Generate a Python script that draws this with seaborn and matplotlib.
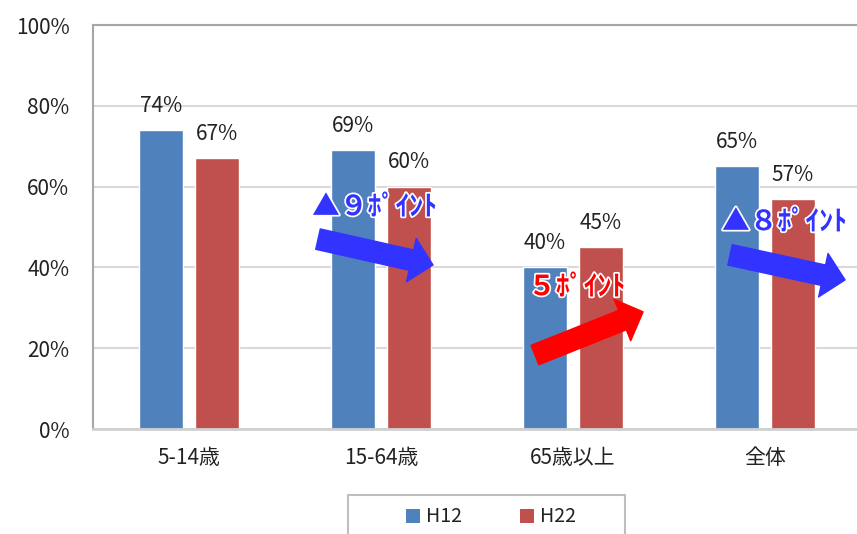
import matplotlib
matplotlib.use("Agg")
import matplotlib.pyplot as plt
import matplotlib.patheffects as pe
from matplotlib.patches import FancyArrowPatch, Rectangle, Patch
from matplotlib.patches import ArrowStyle
import seaborn as sns
import pandas as pd

# ---- data ----
categories = ["5-14歳", "15-64歳", "65歳以上", "全体"]
series_names = ["H12", "H22"]
h12_values = [74, 69, 40, 65]
h22_values = [67, 60, 45, 57]
y_ticks = [0, 20, 40, 60, 80, 100]
y_tick_labels = ["0%", "20%", "40%", "60%", "80%", "100%"]
annot_texts = ["▲９ﾎﾟｲﾝﾄ", "５ﾎﾟｲﾝﾄ", "▲８ﾎﾟｲﾝﾄ"]
# arrow (tail, head) in (category index, percent)
arrow_tails = [(0.672, 47.0), (1.802, 18.3), (2.818, 43.1)]
arrow_heads = [(1.271, 40.6), (2.365, 29.0), (3.417, 36.9)]
annot_pos = [(0.641, 54.9), (1.766, 35.1), (2.776, 51.2)]
annot_colors = ["#3333FF", "#FF0000", "#3333FF"]

colors = ["#4F81BD", "#C0504D"]

df = pd.DataFrame({
    "category": categories * 2,
    "series": [series_names[0]] * len(categories) + [series_names[1]] * len(categories),
    "value": h12_values + h22_values,
})

sns.set_theme(style="white")
plt.rcParams["font.family"] = ["Noto Sans CJK JP", "DejaVu Sans"]

fig = plt.figure(figsize=(8.57, 5.34), dpi=100)
ax = fig.add_axes([93 / 857, 1 - 429 / 534, 768 / 857, 404 / 534])

sns.barplot(data=df, x="category", y="value", hue="series", order=categories,
            hue_order=series_names, palette=colors, width=0.58, gap=0.21,
            saturation=1, legend=False, ax=ax)

for cont, vals in zip(ax.containers, [h12_values, h22_values]):
    ax.bar_label(cont, labels=[f"{v}%" for v in vals], padding=9.5,
                 fontsize=15, color="#222222")

ax.set_xlim(-0.5, 3.5)
ax.set_ylim(0, 100)
ax.set_yticks(y_ticks)
ax.set_yticklabels(y_tick_labels, fontsize=15, color="#222222")
ax.tick_params(axis="y", length=0, pad=17)
ax.tick_params(axis="x", length=0, pad=13, labelsize=15, labelcolor="#222222")
ax.set_xlabel("")
ax.set_ylabel("")
ax.yaxis.grid(True, color="#D9D9D9", lw=1.5)
ax.set_axisbelow(True)
for s in ["left", "top"]:
    ax.spines[s].set_color("#A6A6A6")
    ax.spines[s].set_linewidth(1.5)
ax.spines["bottom"].set_color("#D0D0D0")
ax.spines["bottom"].set_linewidth(2)
ax.spines["right"].set_visible(False)

# arrows
style = ArrowStyle.Simple(head_length=16, head_width=32, tail_width=15)
for tail, head, col in zip(arrow_tails, arrow_heads, annot_colors):
    arr = FancyArrowPatch(tail, head, arrowstyle=style, mutation_scale=1,
                          color=col, shrinkA=0, shrinkB=0, zorder=5,
                          clip_on=False)
    ax.add_patch(arr)

for txt, pos, col in zip(annot_texts, annot_pos, annot_colors):
    ax.text(pos[0], pos[1], txt, color=col, fontsize=20, fontweight="bold",
            ha="left", va="center", zorder=6,
            path_effects=[pe.withStroke(linewidth=2.5, foreground="white")])

# legend (box extends below figure edge)
handles = [Patch(facecolor=c, edgecolor="none") for c in colors]
fig.legend(handles, series_names, loc="center", ncol=2,
           bbox_to_anchor=(491 / 857, 1 - 517 / 534), frameon=False,
           fontsize=14, handlelength=0.7, handleheight=0.7,
           handletextpad=0.3, columnspacing=3.0, labelcolor="#222222")
fig.patches.append(Rectangle((348 / 857, -20 / 534), 277 / 857, (534 - 495 + 20) / 534,
                             transform=fig.transFigure, facecolor="none",
                             edgecolor="#BFBFBF", lw=1.5))

fig.savefig("out.png", dpi=100)
